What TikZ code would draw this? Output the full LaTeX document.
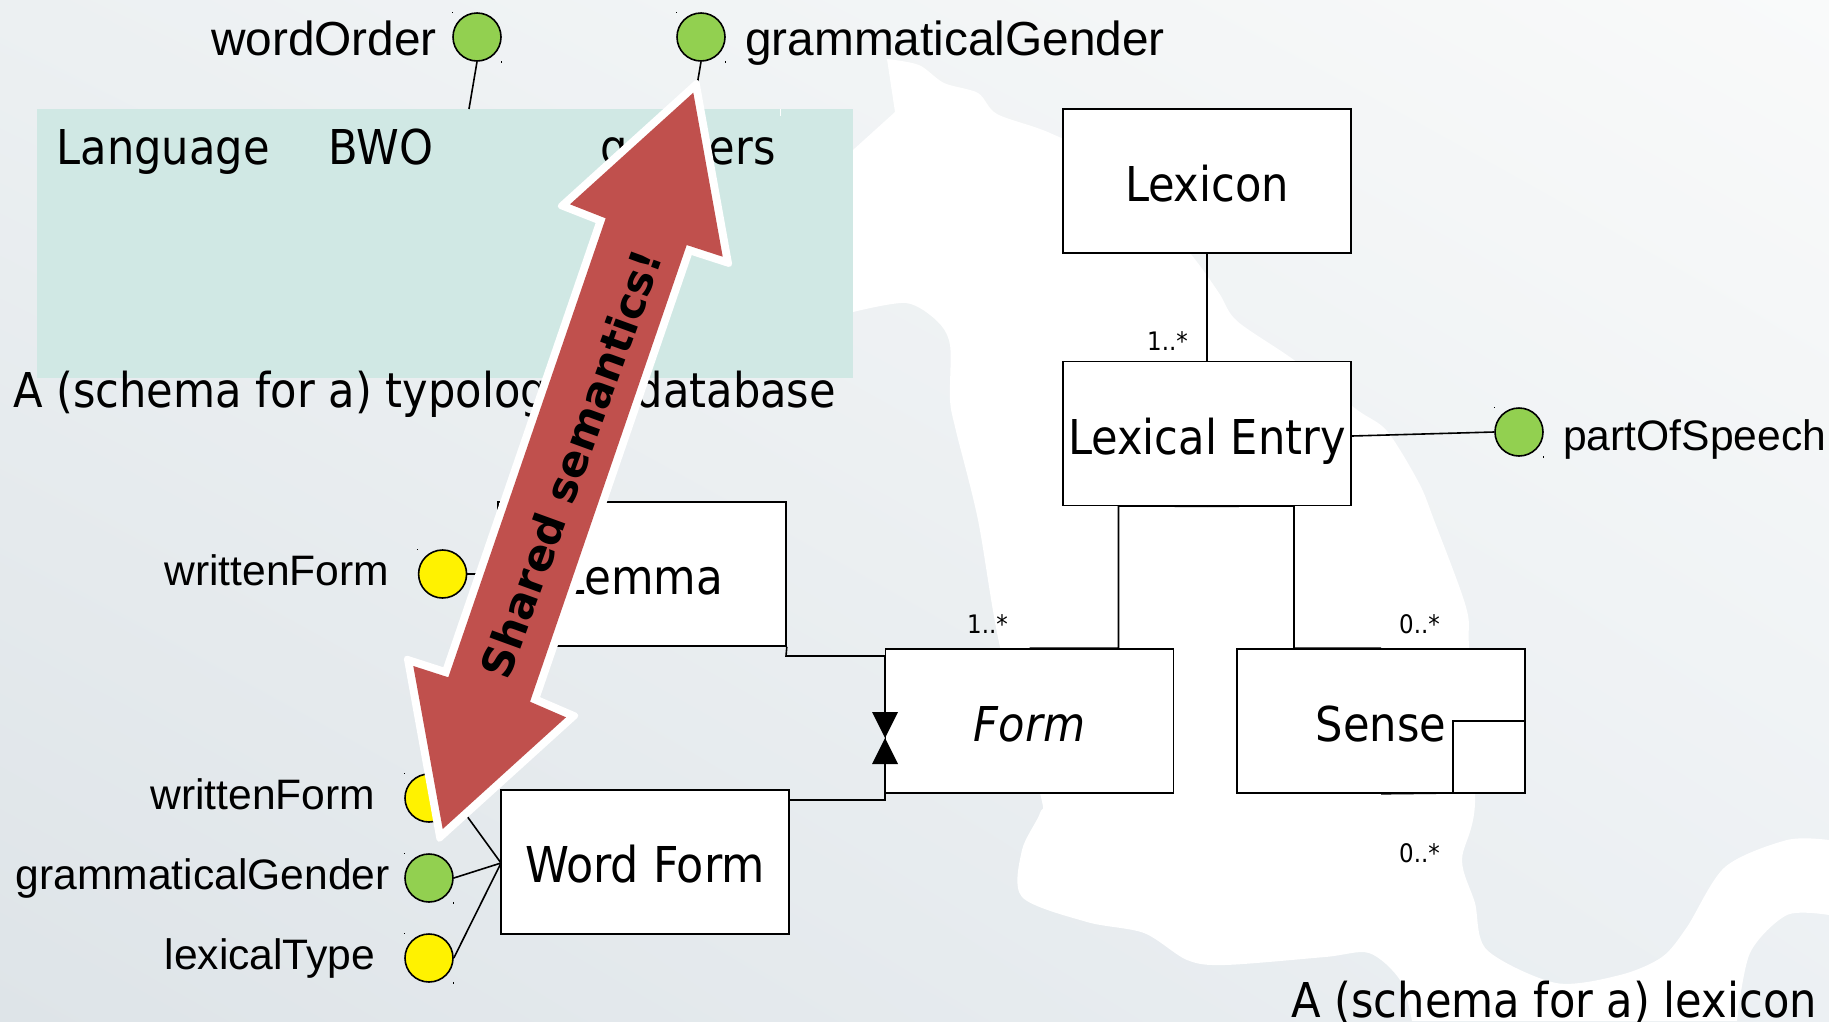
\documentclass[tikz,border=0pt]{standalone}
\usepackage{fontspec}
\setmainfont{DejaVu Sans Condensed}
\newfontfamily\attrfont{Liberation Sans}
\newfontfamily\arrowfont{DejaVu Sans}
\usetikzlibrary{shadings}
\definecolor{teal}{HTML}{D0E8E4}
\definecolor{arrowred}{HTML}{C0504D}
\definecolor{attgreen}{HTML}{92D050}
\tikzset{
  box/.style={draw=black,fill=white,line width=1.6pt,inner sep=0pt,minimum width=288pt,minimum height=144pt,
     text height=41pt,text depth=0pt,font=\fontsize{48}{56}\selectfont},
  conn/.style={draw=black,line width=1.6pt},
  green dot/.style={circle,draw=black,line width=1.6pt,fill=attgreen,minimum size=48pt,inner sep=0pt},
  yellow dot/.style={circle,draw=black,line width=1.6pt,fill=yellow,minimum size=48pt,inner sep=0pt},
  attr/.style={inner sep=0pt,font=\attrfont\fontsize{42.6}{50}\selectfont},
  attrbig/.style={inner sep=0pt,font=\attrfont\fontsize{47.8}{55}\selectfont},
  tabletext/.style={inner sep=0pt,font=\fontsize{48}{56}\selectfont},
  mult/.style={inner sep=0pt,font=\fontsize{25.5}{30}\selectfont},
  tie/.style={fill=black},
}
\begin{document}
\begin{tikzpicture}[x=1pt,y=-1pt]
\useasboundingbox (0,0) rectangle (1829,1021);
\shade[lower left={rgb,255:red,222;green,228;blue,232},upper left={rgb,255:red,236;green,240;blue,242},
       upper right={rgb,255:red,249;green,250;blue,250},lower right={rgb,255:red,236;green,240;blue,243}]
  (0,0) rectangle (1829,1021);
% white land shape
\fill[white]
  plot[smooth,tension=.5] coordinates {(887,59)(919,65)(944,83)(978,93)(997,114)(1050,133)(1120,170)(1190,253)(1219,293)(1237,321)(1294,360)(1356,409)(1387,431)(1419,483)(1434,520)(1466,607)(1469,649)(1475,803)(1462,860)(1475,903)(1487,950)(1556,983)(1620,975)(1662,957)(1687,927)(1725,867)(1787,840)(1829,840)}
  -- (1829,915)
  -- plot[smooth,tension=.5] coordinates {(1829,915)(1787,915)(1750,953)(1737,1021)}
  -- plot[smooth,tension=.5] coordinates {(1412,1021)(1400,980)(1369,953)(1325,957)(1225,965)(1187,960)(1144,933)(1087,922)(1022,897)(1022,850)(1040,813)(1040,793)(1000,647)(978,520)(956,431)(950,400)(950,345)(937,321)(906,303)(853,312)}
  -- (853,150) -- (895,112) -- cycle;
% typological database
\node[fill=teal,inner sep=0pt,minimum width=816pt,minimum height=269pt] (tbl) at (445,243.5) {};
\draw[white,line width=1pt] (780,109) -- (780,116);
\node[tabletext,anchor=base west] (tlang) at (56.5,164) {Language};
\node[tabletext,anchor=base west] (tbwo) at (328.5,164) {BWO};
\node[tabletext,anchor=base west] (tgen) at (600,164) {genders};
\node[tabletext,anchor=base west] (capa) at (13,407) {A (schema for a) typological database};
\node[tabletext,anchor=base east] (capb) at (1817,1017) {A (schema for a) lexicon};
% attribute dots
\node[green dot] (dorder) at (477,37) {};
\node[green dot] (dgender) at (701,37) {};
\node[yellow dot] (dwf) at (442.6,574) {};
\node[yellow dot] (dwf2) at (429,798) {};
\node[green dot] (dgg) at (429,878) {};
\node[yellow dot] (dlt) at (429,958) {};
\node[green dot] (dpos) at (1519,432) {};
\foreach \n in {dorder,dgender,dwf,dwf2,dgg,dlt,dpos}{
  \fill[black] (\n.west |- \n.north) ++(-.5,-.5) rectangle ++(1,1.6);
  \fill[black] (\n.east |- \n.south) ++(-.5,-.5) rectangle ++(1,1.6);
}
\node[attrbig,anchor=base east] (lorder) at (437,55) {wordOrder};
\node[attrbig,anchor=base west] (lgender) at (745,55) {grammaticalGender};
\node[attr,anchor=base east] (lwf) at (389.5,585) {writtenForm};
\node[attr,anchor=base east] (lwf2) at (375.5,809) {writtenForm};
\node[attr,anchor=base east] (lgg) at (390,889) {grammaticalGender};
\node[attr,anchor=base east] (llt) at (375.5,969) {lexicalType};
\node[attr,anchor=base west] (lpos) at (1563,450) {partOfSpeech};
% boxes
\node[box] (lexicon) at (1207,181) {Lexicon};
\node[box] (entry) at (1207,433.5) {Lexical Entry};
\node[box] (form) at (1029.5,721) {\itshape Form};
\node[box] (sense) at (1381,721) {Sense};
\node[box] (lemma) at (642,574) {\fontsize{48.5}{56}\selectfont Lemma};
\node[box] (wform) at (645,862) {\fontsize{49.4}{56}\selectfont Word Form};
% connectors
\coordinate (lemmaelbow) at (786,656);
\coordinate (tiea) at (885,712);
\coordinate (tiem) at (885,738);
\coordinate (tieb) at (885,764);
\coordinate (wfout) at (789,800);
\coordinate (fx) at (1118.5,506);
\coordinate (sx) at (1294,506);
\coordinate (selfa) at (1453,793);
\coordinate (selfb) at (1453,721);
\coordinate (wfin) at (501,863);
\coordinate (tblorder) at (469,109);
\coordinate (tblgender) at (693,109);
\draw[conn] (lexicon.south) -- (entry.north);
\draw[conn] (entry.east) ++(0,2.5) -- (dpos.west);
\draw[conn] (entry.south) -- (fx) -- (fx |- form.north) -- (form.north);
\draw[conn] (entry.south) -- (sx) -- (sx |- sense.north) -- (sense.north);
\draw[conn] (sense.south) -- (selfa) -- (selfb) -- (selfb -| sense.east);
\draw[conn] (lemma.south east) -- (lemmaelbow) -- (lemmaelbow -| tiea) -- (tiea);
\draw[conn] (wfout) -- (wfout -| tieb) -- (tieb);
\fill[tie] (872,712) -- (898,712) -- (tiem) -- cycle;
\fill[tie] (872,764) -- (898,764) -- (tiem) -- cycle;
\draw[conn] (dorder.south) -- (tblorder);
\draw[conn] (dgender.south) -- (tblgender);
\draw[conn] (dwf.east) -- (dwf.east -| lemma.west);
\draw[conn] (dwf2.east) -- (wfin);
\draw[conn] (dgg.east) -- (wfin);
\draw[conn] (dlt.east) -- (wfin);
% multiplicities
\node[mult,anchor=base west] (m1) at (1147,350) {1..*};
\node[mult,anchor=base west] (m2) at (967,633) {1..*};
\node[mult,anchor=base west] (m3) at (1399,633) {0..*};
\node[mult,anchor=base west] (m4) at (1399,862) {0..*};
% shared semantics arrow
\draw[white,fill=white,line width=6pt,line join=round]
  (696.6,82.9) -- (729.1,264) -- (689.8,251.3) -- (536.3,698.8) -- (575.3,715.6) -- (439.4,838.8)
  -- (406.9,658.7) -- (445.2,671) -- (599.4,221.2) -- (560.7,206) -- cycle;
\fill[arrowred] (693.3,92.7) -- (722.7,256.7) -- (686.7,245) -- (530,701.7) -- (566,717.3) -- (442.7,829)
  -- (413.3,666) -- (448.3,677.3) -- (605.7,218.3) -- (570,204.3) -- cycle;
\node[inner sep=0pt,rotate=70,font=\arrowfont\bfseries\fontsize{43}{50}\selectfont] (shared) at (571,464) {Shared semantics!};
\end{tikzpicture}
\end{document}
